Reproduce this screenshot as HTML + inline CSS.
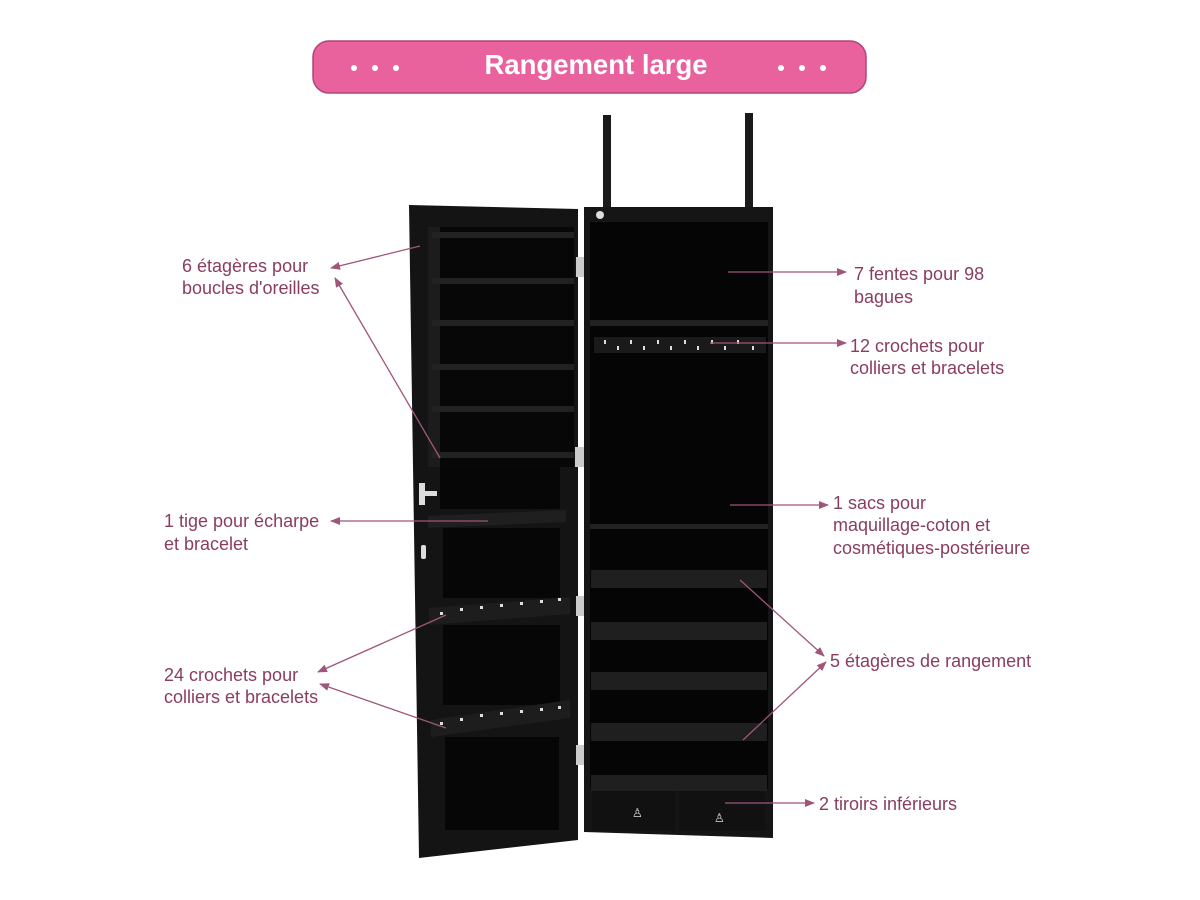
<!DOCTYPE html>
<html><head><meta charset="utf-8"><style>
html,body{margin:0;padding:0;background:#fff;}
svg{display:block}
text{font-family:"Liberation Sans",sans-serif;}
</style></head><body>
<svg width="1200" height="900" viewBox="0 0 1200 900" xmlns="http://www.w3.org/2000/svg">
<defs>
<marker id="ah" markerWidth="10" markerHeight="8" refX="9" refY="4" orient="auto" markerUnits="userSpaceOnUse">
<path d="M0,0 L10,4 L0,8 Z" fill="#a0557a"/></marker>
</defs>
<rect x="313" y="41" width="553" height="52" rx="16" fill="#e9629e" stroke="#b04578" stroke-width="1.5"/>
<g fill="#fff"><circle cx="354" cy="68" r="3"/><circle cx="375" cy="68" r="3"/><circle cx="396" cy="68" r="3"/>
<circle cx="781" cy="68" r="3"/><circle cx="802" cy="68" r="3"/><circle cx="823" cy="68" r="3"/></g>
<text x="596" y="74" text-anchor="middle" font-size="27.5" font-weight="bold" fill="#fff">Rangement large</text>

<rect x="603" y="115" width="8" height="95" fill="#1a1a1a"/>
<rect x="745" y="113" width="8" height="97" fill="#1a1a1a"/>
<polygon points="409,205 578,209 578,840 419,858" fill="#141414"/>
<rect x="428" y="227" width="146" height="240" fill="#070707"/>
<rect x="428" y="227" width="12" height="240" fill="#1c1c1c"/>
<g fill="#222">
<rect x="432" y="232" width="142" height="6"/><rect x="432" y="278" width="142" height="6"/>
<rect x="432" y="320" width="142" height="6"/><rect x="432" y="364" width="142" height="6"/>
<rect x="432" y="406" width="142" height="6"/><rect x="432" y="452" width="142" height="6"/>
</g>
<rect x="440" y="467" width="120" height="42" fill="#060606"/>
<polygon points="428,516 566,510 566,522 428,528" fill="#1f1f1f"/>
<rect x="443" y="528" width="117" height="70" fill="#060606"/>
<polygon points="429,608 570,597 570,614 429,625" fill="#1d1d1d"/>
<rect x="443" y="625" width="117" height="80" fill="#060606"/>
<polygon points="431,720 570,700 570,718 431,737" fill="#1d1d1d"/>
<rect x="445" y="737" width="114" height="93" fill="#060606"/>
<rect x="419" y="483" width="6" height="22" fill="#ddd"/><rect x="419" y="491" width="18" height="5" fill="#ddd"/>
<rect x="421" y="545" width="5" height="14" rx="2" fill="#ddd"/>
<g fill="#ddd"><rect x="440" y="612" width="3" height="3"/><rect x="460" y="608" width="3" height="3"/><rect x="480" y="606" width="3" height="3"/><rect x="500" y="604" width="3" height="3"/><rect x="520" y="602" width="3" height="3"/><rect x="540" y="600" width="3" height="3"/><rect x="558" y="598" width="3" height="3"/>
<rect x="440" y="722" width="3" height="3"/><rect x="460" y="718" width="3" height="3"/><rect x="480" y="714" width="3" height="3"/><rect x="500" y="712" width="3" height="3"/><rect x="520" y="710" width="3" height="3"/><rect x="540" y="708" width="3" height="3"/><rect x="558" y="706" width="3" height="3"/></g>
<g fill="#ccc"><rect x="576" y="257" width="14" height="20"/><rect x="575" y="447" width="14" height="20"/><rect x="576" y="596" width="14" height="20"/><rect x="576" y="745" width="14" height="20"/></g>
<polygon points="584,207 773,207 773,838 584,832" fill="#151515"/>
<rect x="590" y="222" width="178" height="100" fill="#050505"/>
<circle cx="600" cy="215" r="4" fill="#ddd"/>
<rect x="590" y="320" width="178" height="6" fill="#222"/>
<rect x="590" y="326" width="178" height="200" fill="#050505"/>
<rect x="594" y="337" width="172" height="16" fill="#1a1a1a"/>
<g fill="#ddd"><rect x="604" y="340" width="2" height="4"/><rect x="617" y="346" width="2" height="4"/><rect x="630" y="340" width="2" height="4"/><rect x="643" y="346" width="2" height="4"/><rect x="657" y="340" width="2" height="4"/><rect x="670" y="346" width="2" height="4"/><rect x="684" y="340" width="2" height="4"/><rect x="697" y="346" width="2" height="4"/><rect x="711" y="340" width="2" height="4"/><rect x="724" y="346" width="2" height="4"/><rect x="737" y="340" width="2" height="4"/><rect x="752" y="346" width="2" height="4"/></g>
<rect x="590" y="524" width="178" height="5" fill="#222"/>
<rect x="590" y="529" width="178" height="260" fill="#050505"/>
<g fill="#1f1f1f">
<rect x="591" y="570" width="176" height="18"/><rect x="591" y="622" width="176" height="18"/>
<rect x="591" y="672" width="176" height="18"/><rect x="591" y="723" width="176" height="18"/>
<rect x="591" y="775" width="176" height="16"/></g>
<rect x="592" y="791" width="83" height="40" fill="#111"/><rect x="679" y="791" width="86" height="40" fill="#111"/>
<text x="632" y="817" font-size="12" fill="#ddd">♙</text><text x="714" y="822" font-size="12" fill="#ddd">♙</text>

<g stroke="#a0557a" stroke-width="1.3" fill="none" marker-end="url(#ah)">
<line x1="420" y1="246" x2="331" y2="268"/>
<line x1="440" y1="458" x2="335" y2="278"/>
<line x1="488" y1="521" x2="331" y2="521"/>
<line x1="446" y1="615" x2="318" y2="672"/>
<line x1="446" y1="728" x2="320" y2="684"/>
<line x1="728" y1="272" x2="846" y2="272"/>
<line x1="710" y1="343" x2="846" y2="343"/>
<line x1="730" y1="505" x2="828" y2="505"/>
<line x1="740" y1="580" x2="824" y2="656"/>
<line x1="743" y1="740" x2="826" y2="662"/>
<line x1="725" y1="803" x2="814" y2="803"/>
</g>
<g font-size="18" fill="#8a3d60">
<text x="182" y="272">6 étagères pour</text><text x="182" y="294">boucles d'oreilles</text>
<text x="164" y="527">1 tige pour écharpe</text><text x="164" y="550">et bracelet</text>
<text x="164" y="681">24 crochets pour</text><text x="164" y="703">colliers et bracelets</text>
<text x="854" y="280">7 fentes pour 98</text><text x="854" y="303">bagues</text>
<text x="850" y="352">12 crochets pour</text><text x="850" y="374">colliers et bracelets</text>
<text x="833" y="509">1 sacs pour</text><text x="833" y="531">maquillage-coton et</text><text x="833" y="554">cosmétiques-postérieure</text>
<text x="830" y="667">5 étagères de rangement</text>
<text x="819" y="810">2 tiroirs inférieurs</text>
</g>
</svg>
</body></html>
